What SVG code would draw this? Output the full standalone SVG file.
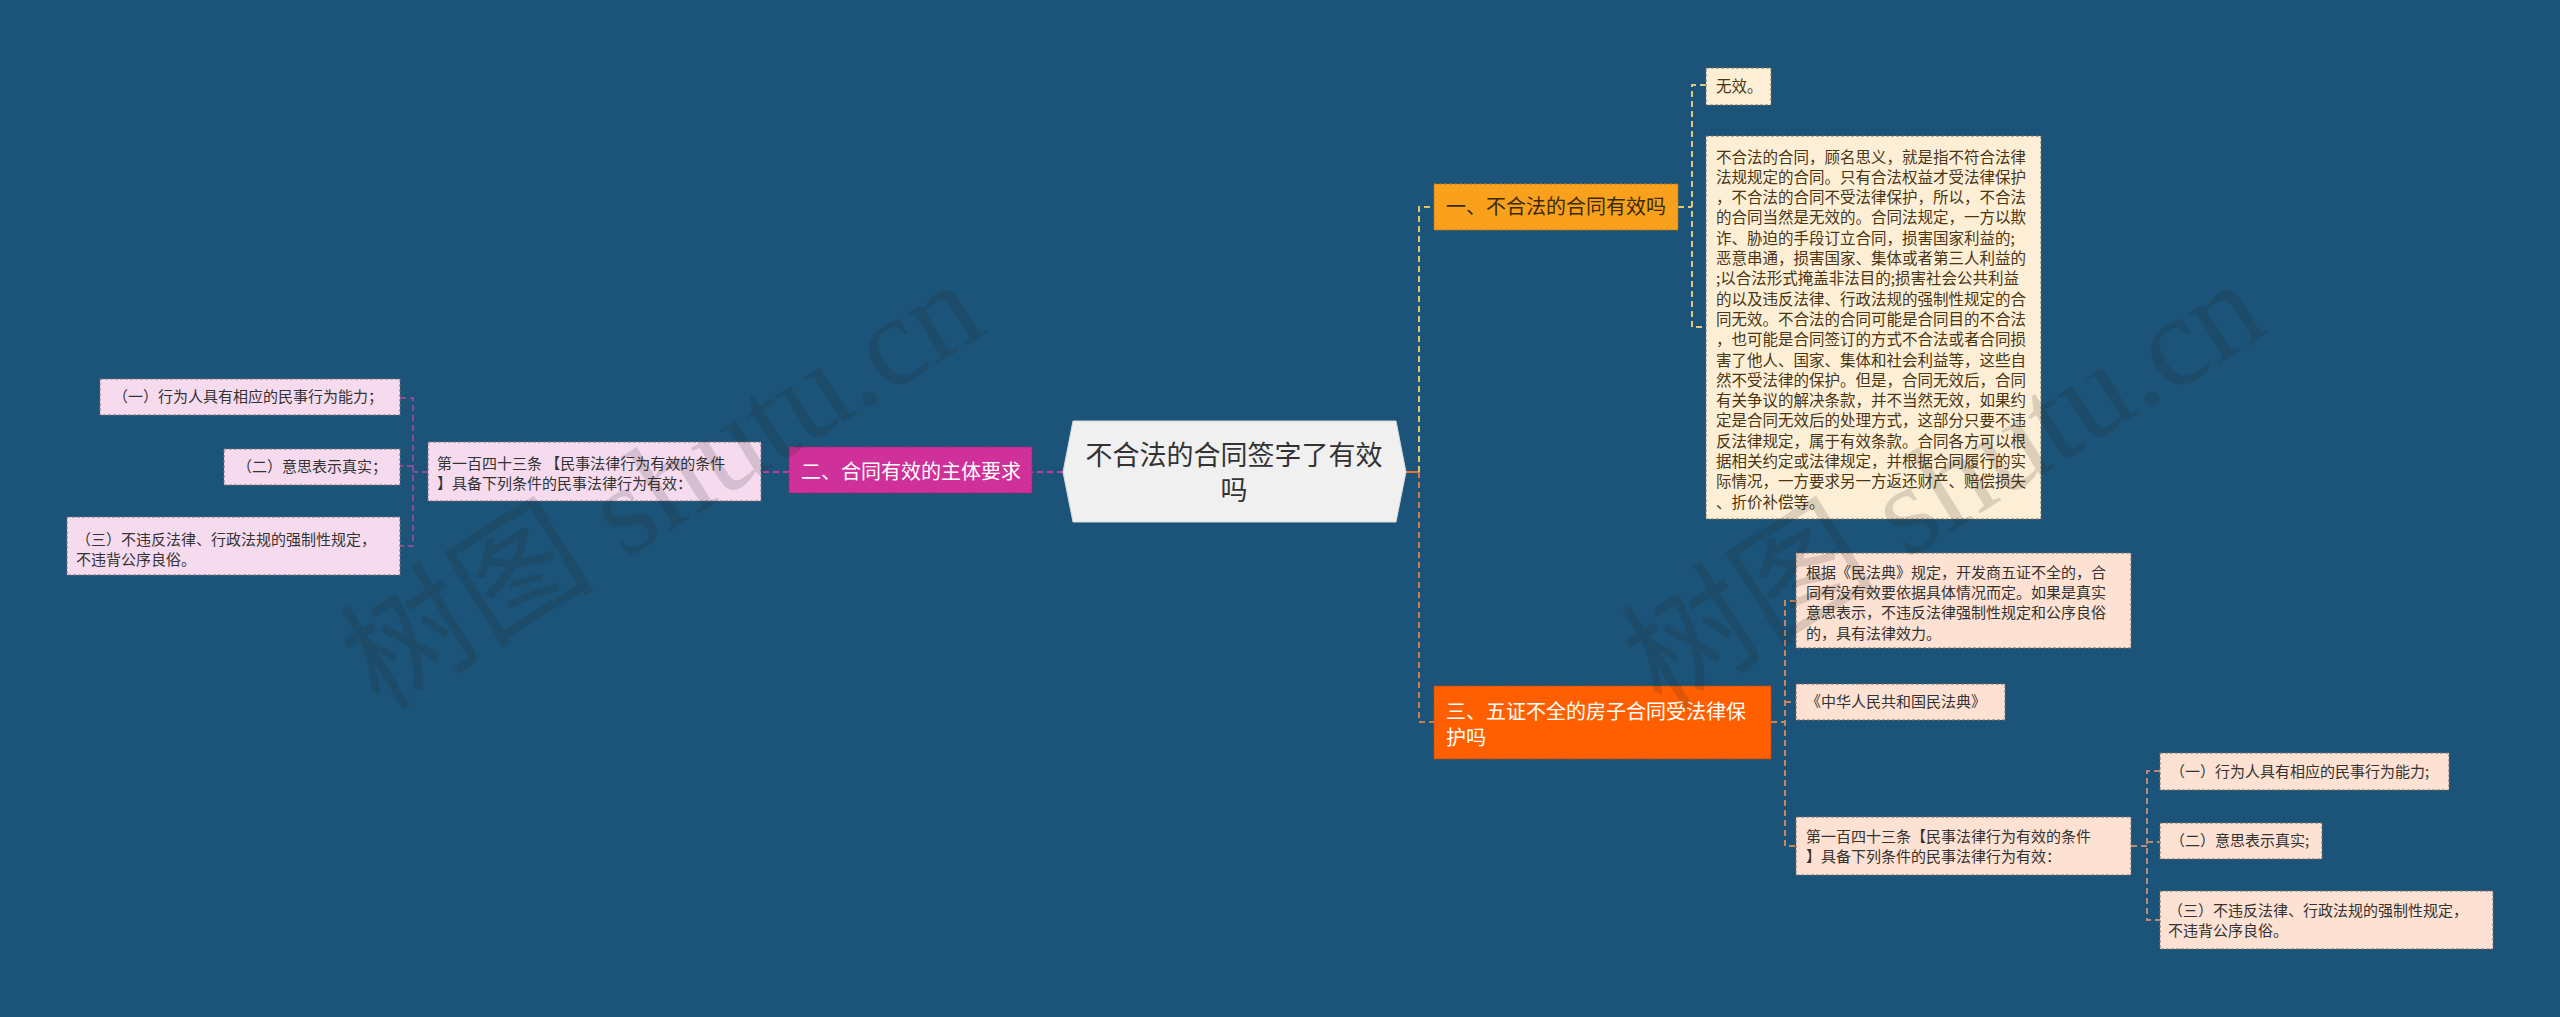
<svg xmlns="http://www.w3.org/2000/svg" width="2560" height="1017" viewBox="0 0 2560 1017">
<style>
text{font-family:"Noto Sans CJK SC","Noto Sans",sans-serif;}
.t15{font-size:15px;fill:#333;}
.tc{font-size:15.5px;fill:#4a3614;}
.b1{fill:#f9a11c;stroke:#b77a14;stroke-width:1;stroke-dasharray:3 2;}
.b2{fill:#d0309a;stroke:#9a2472;stroke-width:1;stroke-dasharray:3 2;}
.b3{fill:#ff5f00;stroke:#b8480a;stroke-width:1;stroke-dasharray:3 2;}
.cream{fill:#fdefd6;stroke:#7d6d55;stroke-width:1;stroke-dasharray:3 2;}
.pink{fill:#f6dbef;stroke:#7d6d7a;stroke-width:1;stroke-dasharray:3 2;}
.peach{fill:#fde1d2;stroke:#7d6d65;stroke-width:1;stroke-dasharray:3 2;}
.bt{font-size:20px;}
.c{fill:none;stroke-width:2;stroke-dasharray:6 4;}
.wm{font-family:"Liberation Serif","Noto Sans CJK SC",serif;font-size:128px;fill:#222;opacity:0.15;}
</style>
<rect x="0" y="0" width="2560" height="1017" fill="#1b5478"/>

<g id="connectors">
<path d="M1406 472 H1419" stroke="#e07a30" stroke-width="2" fill="none"/>
<path class="c" d="M1419 472 V207 H1434" stroke="#e3c265"/>
<path class="c" d="M1419 472 V722 H1434" stroke="#d27a45"/>
<path class="c" d="M1678 207 H1692 M1706 85 H1692 V327 H1706" stroke="#e3c67a"/>
<path class="c" d="M1771 722 H1785 M1796 601 H1785 V846 H1796 M1785 702 H1796" stroke="#c8875e"/>
<path class="c" d="M2131 846 H2147 M2160 771 H2147 V920 H2160 M2147 842 H2160" stroke="#b98a78"/>
<path class="c" d="M1063 472 H1032" stroke="#c9389e"/>
<path class="c" d="M789 472 H761" stroke="#c9389e"/>
<path class="c" d="M428 472 H413 M400 398 H413 V546 H400 M413 466 H400" stroke="#8e4a94"/>
</g>

<g id="center">
<polygon points="1063,472 1073,421 1396,421 1406,472 1396,522 1073,522" fill="#f0f0f0" stroke="#d8d8d8" stroke-width="1"/>
<text x="1234" y="465" text-anchor="middle" font-size="27" fill="#333">不合法的合同签字了有效</text>
<text x="1234" y="500" text-anchor="middle" font-size="27" fill="#333">吗</text>
</g>

<g id="branch1">
<rect class="b1" x="1434" y="184" width="244" height="46"/>
<text class="bt" x="1446" y="214" fill="#3b2a0a">一、不合法的合同有效吗</text>
</g>
<g id="b1-wuxiao">
<rect class="cream" x="1706" y="68" width="65" height="37"/>
<text class="tc" x="1716" y="92">无效。</text>
</g>
<g id="b1-detail">
<rect class="cream" x="1706" y="136" width="335" height="383"/>
<text class="tc" x="1716" y="162.5">
<tspan x="1716" dy="0">不合法的合同，顾名思义，就是指不符合法律</tspan>
<tspan x="1716" dy="20.3">法规规定的合同。只有合法权益才受法律保护</tspan>
<tspan x="1716" dy="20.3">，不合法的合同不受法律保护，所以，不合法</tspan>
<tspan x="1716" dy="20.3">的合同当然是无效的。合同法规定，一方以欺</tspan>
<tspan x="1716" dy="20.3">诈、胁迫的手段订立合同，损害国家利益的;</tspan>
<tspan x="1716" dy="20.3">恶意串通，损害国家、集体或者第三人利益的</tspan>
<tspan x="1716" dy="20.3">;以合法形式掩盖非法目的;损害社会公共利益</tspan>
<tspan x="1716" dy="20.3">的以及违反法律、行政法规的强制性规定的合</tspan>
<tspan x="1716" dy="20.3">同无效。不合法的合同可能是合同目的不合法</tspan>
<tspan x="1716" dy="20.3">，也可能是合同签订的方式不合法或者合同损</tspan>
<tspan x="1716" dy="20.3">害了他人、国家、集体和社会利益等，这些自</tspan>
<tspan x="1716" dy="20.3">然不受法律的保护。但是，合同无效后，合同</tspan>
<tspan x="1716" dy="20.3">有关争议的解决条款，并不当然无效，如果约</tspan>
<tspan x="1716" dy="20.3">定是合同无效后的处理方式，这部分只要不违</tspan>
<tspan x="1716" dy="20.3">反法律规定，属于有效条款。合同各方可以根</tspan>
<tspan x="1716" dy="20.3">据相关约定或法律规定，并根据合同履行的实</tspan>
<tspan x="1716" dy="20.3">际情况，一方要求另一方返还财产、赔偿损失</tspan>
<tspan x="1716" dy="20.3">、折价补偿等。</tspan>
</text>
</g>

<g id="branch2">
<rect class="b2" x="789" y="447" width="243" height="46"/>
<text class="bt" x="801" y="479" fill="#fff">二、合同有效的主体要求</text>
</g>
<g id="b2-article">
<rect class="pink" x="428" y="442" width="333" height="59"/>
<text class="t15" x="437" y="468.5">第一百四十三条 【民事法律行为有效的条件</text>
<text class="t15" x="437" y="488.5">】具备下列条件的民事法律行为有效：</text>
</g>
<g id="b2-item1">
<rect class="pink" x="100" y="379" width="300" height="36"/>
<text class="t15" x="113" y="402">（一）行为人具有相应的民事行为能力；</text>
</g>
<g id="b2-item2">
<rect class="pink" x="224" y="449" width="176" height="36"/>
<text class="t15" x="237" y="472">（二）意思表示真实；</text>
</g>
<g id="b2-item3">
<rect class="pink" x="67" y="517" width="333" height="58"/>
<text class="t15" x="76" y="545">（三）不违反法律、行政法规的强制性规定，</text>
<text class="t15" x="76" y="565">不违背公序良俗。</text>
</g>

<g id="branch3">
<rect class="b3" x="1434" y="686" width="337" height="73"/>
<text class="bt" x="1446" y="719" fill="#fff">三、五证不全的房子合同受法律保</text>
<text class="bt" x="1446" y="745" fill="#fff">护吗</text>
</g>
<g id="b3-note">
<rect class="peach" x="1796" y="553" width="335" height="95"/>
<text class="t15" x="1806" y="577.5">
<tspan x="1806" dy="0">根据《民法典》规定，开发商五证不全的，合</tspan>
<tspan x="1806" dy="20.4">同有没有效要依据具体情况而定。如果是真实</tspan>
<tspan x="1806" dy="20.4">意思表示，不违反法律强制性规定和公序良俗</tspan>
<tspan x="1806" dy="20.4">的，具有法律效力。</tspan>
</text>
</g>
<g id="b3-law">
<rect class="peach" x="1796" y="684" width="209" height="36"/>
<text class="t15" x="1806" y="707">《中华人民共和国民法典》</text>
</g>
<g id="b3-article">
<rect class="peach" x="1796" y="817" width="335" height="58"/>
<text class="t15" x="1806" y="842">第一百四十三条【民事法律行为有效的条件</text>
<text class="t15" x="1806" y="862">】具备下列条件的民事法律行为有效：</text>
</g>
<g id="b3-item1">
<rect class="peach" x="2160" y="753" width="289" height="37"/>
<text class="t15" x="2170" y="777">（一）行为人具有相应的民事行为能力;</text>
</g>
<g id="b3-item2">
<rect class="peach" x="2160" y="823" width="162" height="36"/>
<text class="t15" x="2170" y="846">（二）意思表示真实;</text>
</g>
<g id="b3-item3">
<rect class="peach" x="2160" y="891" width="333" height="58"/>
<text class="t15" x="2168" y="916">（三）不违反法律、行政法规的强制性规定，</text>
<text class="t15" x="2168" y="936">不违背公序良俗。</text>
</g>

<g id="watermarks">
<text class="wm" transform="translate(380,712) rotate(-32)">树图 shutu.cn</text>
<text class="wm" transform="translate(1662,712) rotate(-32)">树图 shutu.cn</text>
</g>
</svg>
